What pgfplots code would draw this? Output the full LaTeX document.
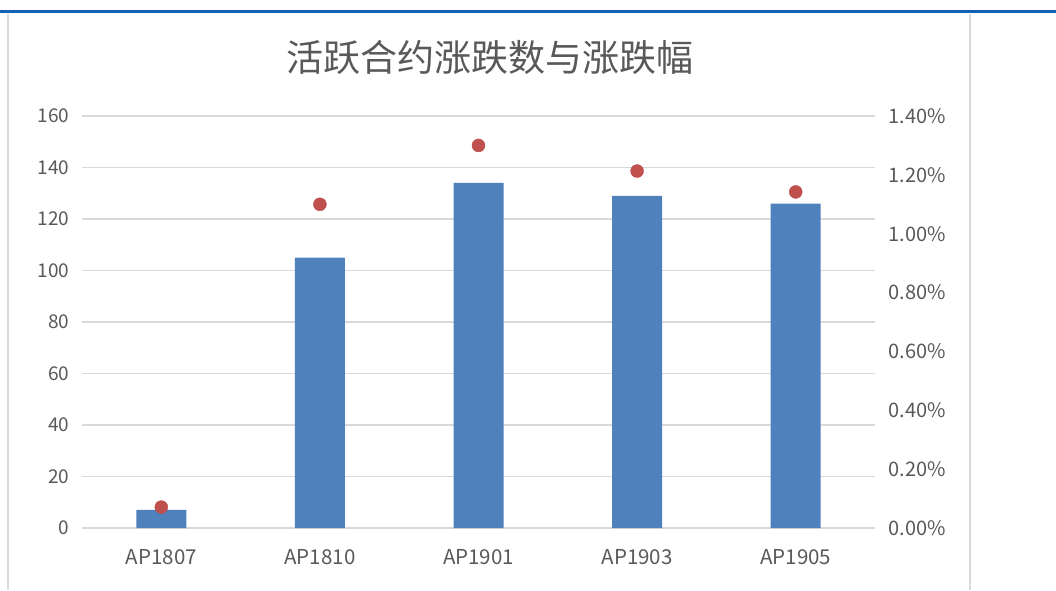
\documentclass[border=0pt]{standalone}
\usepackage{fontspec}
\setmainfont{Noto Sans CJK SC}
\usepackage{pgfplots}
\pgfplotsset{compat=1.18}
\definecolor{barblue}{HTML}{4F81BD}
\definecolor{dotred}{HTML}{C0504D}
\definecolor{txtgray}{HTML}{595959}
\definecolor{gridgray}{HTML}{D9D9D9}
\definecolor{topblue}{HTML}{1560B0}

\begin{document}
\begin{tikzpicture}
\useasboundingbox (0,0) rectangle (1056pt,590pt);
\fill[white] (0,0) rectangle (1056pt,590pt);
\draw[topblue, line width=3pt] (0,578pt) -- (1056pt,578pt);
\draw[gridgray, line width=1.5pt] (8pt,0) -- (8pt,576pt);
\draw[gridgray, line width=1.5pt] (970pt,0) -- (970pt,576pt);
\node[txtgray, font=\fontsize{37}{40}\selectfont] at (490pt,533pt) {活跃合约涨跌数与涨跌幅};

\begin{axis}[
    at={(82pt,62pt)}, anchor=south west,
    scale only axis, width=793pt, height=412pt,
    xmin=-0.5, xmax=4.5, ymin=0, ymax=160,
    xtick={0,1,2,3,4},
    xticklabels={AP1807,AP1810,AP1901,AP1903,AP1905},
    ytick={0,20,40,60,80,100,120,140,160},
    ymajorgrids,
    grid style={gridgray, line width=1.2pt},
    axis line style={draw=none},
    major tick length=0pt,
    tick label style={txtgray, font=\fontsize{19}{21}\selectfont},
    /pgf/number format/assume math mode=true,
    yticklabel style={xshift=-9pt},
    xticklabel style={yshift=-18pt, font=\fontsize{20.5}{22}\selectfont},
    ybar, bar width=50pt,
    ]
    \addplot[fill=barblue, draw=none] coordinates {(0,7) (1,105) (2,134) (3,129) (4,126)};
\end{axis}

\begin{axis}[
    at={(82pt,62pt)}, anchor=south west,
    scale only axis, width=793pt, height=412pt,
    xmin=-0.5, xmax=4.5, ymin=0, ymax=1.4,
    axis y line*=right,
    axis x line=none,
    axis line style={draw=none},
    major tick length=0pt,
    ytick={0,0.2,0.4,0.6,0.8,1.0,1.2,1.4},
    yticklabel={\pgfmathprintnumber[fixed,fixed zerofill,precision=2]{\tick}\%},
    tick label style={txtgray, font=\fontsize{20}{22}\selectfont},
    /pgf/number format/assume math mode=true,
    yticklabel style={xshift=10pt},
    ]
    \addplot[only marks, mark=*, mark size=6.5pt, dotred] coordinates {(0,0.071) (1,1.10) (2,1.30) (3,1.213) (4,1.142)};
\end{axis}
\end{tikzpicture}
\end{document}
